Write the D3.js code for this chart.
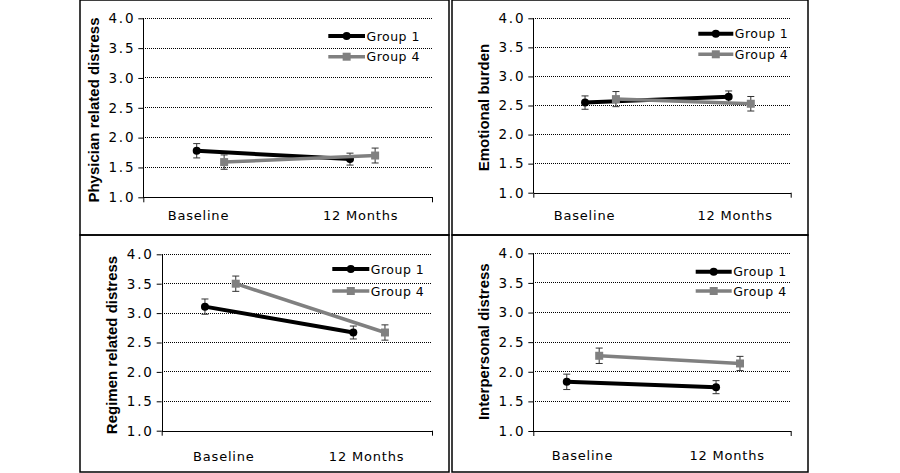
<!DOCTYPE html>
<html>
<head>
<meta charset="utf-8">
<script src="https://cdn.jsdelivr.net/npm/d3@7"></script>
<style>
  body { margin: 0; background: #fff; }
  svg { display: block; }
  .tick text, .cat, .legend text { font-family: "DejaVu Sans", sans-serif; fill: #000; }
  .ytitle { font-family: "Liberation Sans Narrow", "Liberation Sans", sans-serif; font-weight: bold; font-size: 15px; }
</style>
</head>
<body>
<script>
const categories = ['Baseline', '12 Months'];
const groups = ['Group 1', 'Group 4'];
const titles = ['Physician related distress', 'Emotional burden', 'Regimen related distress', 'Interpersonal distress'];
const yTicks = [1.0, 1.5, 2.0, 2.5, 3.0, 3.5, 4.0];

// means and error bar half-widths, one row per panel: [baseline, 12 months]
const group1Means = [[1.78, 1.64], [2.55, 2.65], [3.11, 2.67], [1.83, 1.74]];
const group1Err = [[0.12, 0.10], [0.115, 0.10], [0.13, 0.11], [0.13, 0.11]];
const group4Means = [[1.59, 1.70], [2.61, 2.53], [3.50, 2.67], [2.27, 2.14]];
const group4Err = [[0.12, 0.125], [0.13, 0.125], [0.13, 0.13], [0.13, 0.12]];

const colors = ['#000000', '#808080'];

// layout of each panel (pixels), x positions are fractions of the plot width
const panels = [
  { frame: [80, 0, 449, 235], x0: 143.3, x1: 432, yTop: 18.3, yBot: 197.3, titleX: 93.3, titleY: 110, labelDy: 18,
    labelAt: [0.191, 0.753], at: [[0.185, 0.716], [0.280, 0.803]], legX: [328.3, 365], legY: [36, 56.7] },
  { frame: [452, 0, 808, 235], x0: 533.3, x1: 790.7, yTop: 18.3, yBot: 192.7, titleX: 483.3, titleY: 107.5, labelDy: 23,
    labelAt: [0.199, 0.784], at: [[0.201, 0.759], [0.321, 0.845]], legX: [698.3, 733.3], legY: [33.7, 54.3] },
  { frame: [80, 235, 449, 472], x0: 161.7, x1: 432, yTop: 254.3, yBot: 430.7, titleX: 111.7, titleY: 345, labelDy: 26,
    labelAt: [0.23, 0.758], at: [[0.160, 0.709], [0.274, 0.826]], legX: [332.3, 369.3], legY: [269, 291] },
  { frame: [452, 235, 808, 472], x0: 533.3, x1: 790.7, yTop: 253.3, yBot: 431, titleX: 483.3, titleY: 341.7, labelDy: 24.7,
    labelAt: [0.191, 0.753], at: [[0.130, 0.710], [0.256, 0.803]], legX: [695.7, 731.7], legY: [271.7, 291] }
];

const svg = d3.select('body').append('svg')
  .attr('width', 900)
  .attr('height', 473);

panels.forEach((p, i) => {
  const f = p.frame;
  svg.append('rect')
    .attr('x', f[0]).attr('y', f[1])
    .attr('width', f[2] - f[0]).attr('height', f[3] - f[1])
    .attr('fill', 'none').attr('stroke', '#000').attr('stroke-width', 1.5);

  const w = p.x1 - p.x0;
  const h = p.yBot - p.yTop;
  const x = d3.scaleLinear().domain([0, 1]).range([0, w]);
  const y = d3.scaleLinear().domain([1, 4]).range([h, 0]);

  const g = svg.append('g').attr('transform', `translate(${p.x0},${p.yTop})`);

  // dotted gridlines
  g.selectAll('.grid').data(yTicks.slice(1)).enter()
    .append('line')
    .attr('class', 'grid')
    .attr('x1', 0).attr('x2', w)
    .attr('y1', d => y(d)).attr('y2', d => y(d))
    .attr('stroke', '#000').attr('stroke-width', 1)
    .attr('stroke-dasharray', '1,1')
    .attr('shape-rendering', 'crispEdges');

  const yAxis = g.append('g')
    .call(d3.axisLeft(y).tickValues(yTicks).tickFormat(d3.format('.1f')).tickSize(5).tickSizeOuter(0).tickPadding(3));
  yAxis.select('.domain').attr('shape-rendering', 'crispEdges');
  yAxis.selectAll('.tick text').style('font-size', '13.5px').style('letter-spacing', '1.8px');

  // category axis: ticks only at both ends
  g.append('g')
    .attr('transform', `translate(0,${h})`)
    .call(d3.axisBottom(x).tickValues([0, 1]).tickFormat('').tickSize(5).tickSizeOuter(0))
    .select('.domain').attr('shape-rendering', 'crispEdges');

  g.selectAll('.cat').data(categories).enter()
    .append('text')
    .attr('class', 'cat')
    .attr('x', (d, j) => x(p.labelAt[j]))
    .attr('y', h + p.labelDy)
    .attr('text-anchor', 'middle')
    .attr('dominant-baseline', 'central')
    .style('font-size', '13px')
    .style('letter-spacing', '0.8px')
    .text(d => d);

  svg.append('text')
    .attr('class', 'ytitle')
    .attr('transform', `translate(${p.titleX},${p.titleY}) rotate(-90)`)
    .attr('text-anchor', 'middle')
    .attr('dominant-baseline', 'central')
    .text(titles[i]);

  const series = [
    { means: group1Means[i], err: group1Err[i] },
    { means: group4Means[i], err: group4Err[i] }
  ];

  series.forEach((s, k) => {
    const pts = s.means.map((m, j) => ({ x: x(p.at[k][j]), m: m, e: s.err[j] }));

    const eb = g.append('g').selectAll('g').data(pts).enter().append('g')
      .attr('stroke', '#333').attr('stroke-width', 1);
    eb.append('line')
      .attr('x1', d => d.x).attr('x2', d => d.x)
      .attr('y1', d => y(d.m - d.e)).attr('y2', d => y(d.m + d.e));
    eb.append('line')
      .attr('x1', d => d.x - 3.5).attr('x2', d => d.x + 3.5)
      .attr('y1', d => y(d.m - d.e)).attr('y2', d => y(d.m - d.e));
    eb.append('line')
      .attr('x1', d => d.x - 3.5).attr('x2', d => d.x + 3.5)
      .attr('y1', d => y(d.m + d.e)).attr('y2', d => y(d.m + d.e));

    g.append('path')
      .datum(pts)
      .attr('fill', 'none')
      .attr('stroke', colors[k])
      .attr('stroke-width', k === 0 ? 4 : 3.5)
      .attr('d', d3.line().x(d => d.x).y(d => y(d.m)));

    if (k === 0) {
      g.selectAll('.m1').data(pts).enter().append('circle')
        .attr('class', 'm1')
        .attr('cx', d => d.x).attr('cy', d => y(d.m)).attr('r', 4)
        .attr('fill', colors[k]);
    } else {
      g.selectAll('.m4').data(pts).enter().append('rect')
        .attr('class', 'm4')
        .attr('x', d => d.x - 4).attr('y', d => y(d.m) - 4)
        .attr('width', 8).attr('height', 8)
        .attr('fill', colors[k]);
    }
  });

  // legend
  const leg = svg.append('g').attr('class', 'legend');
  groups.forEach((name, k) => {
    const ly = p.legY[k];
    const mid = (p.legX[0] + p.legX[1]) / 2;
    leg.append('line')
      .attr('x1', p.legX[0]).attr('x2', p.legX[1])
      .attr('y1', ly).attr('y2', ly)
      .attr('stroke', colors[k]).attr('stroke-width', k === 0 ? 4 : 3.5);
    if (k === 0) {
      leg.append('circle').attr('cx', mid).attr('cy', ly).attr('r', 4).attr('fill', colors[k]);
    } else {
      leg.append('rect').attr('x', mid - 4).attr('y', ly - 4).attr('width', 8).attr('height', 8).attr('fill', colors[k]);
    }
    leg.append('text')
      .attr('x', p.legX[1] + 1.5)
      .attr('y', ly)
      .attr('dominant-baseline', 'central')
      .style('font-size', '12.5px')
      .style('letter-spacing', '0.5px')
      .text(name);
  });
});
</script>
</body>
</html>
